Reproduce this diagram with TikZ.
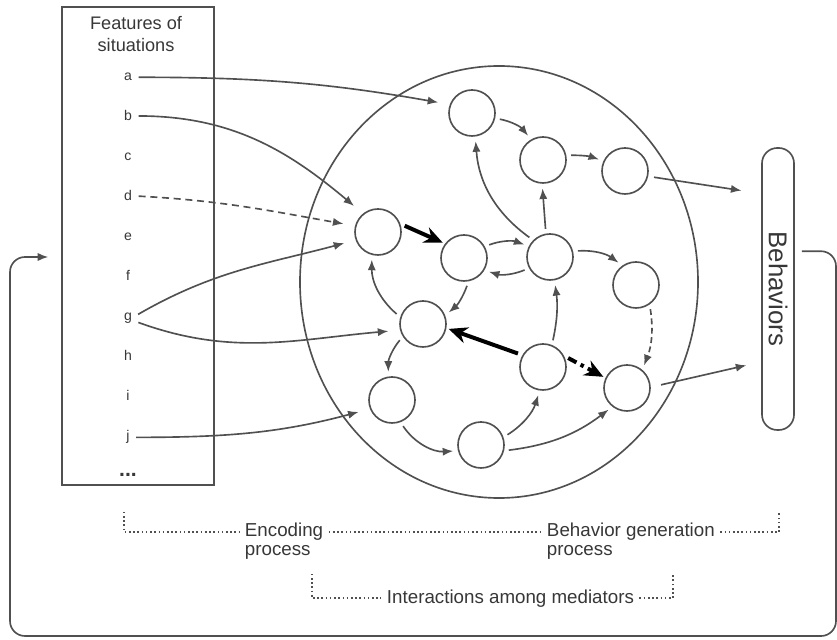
\documentclass[tikz,border=0pt]{standalone}
\usepackage{fontspec}
\setmainfont{Liberation Sans}
\usetikzlibrary{arrows.meta}
\definecolor{ink}{RGB}{80,80,80}
\definecolor{txt}{RGB}{55,55,55}

\begin{document}
\begin{tikzpicture}[x=0.03cm,y=0.03cm,>={Latex[length=9pt,width=7pt]},
    line width=1.4pt,color=ink,text=txt,font=\fontsize{16}{19}\selectfont,
    med/.style={circle,draw,minimum size=1.38cm,inner sep=0pt},
    lbl/.style={font=\fontsize{12}{14}\selectfont,inner sep=2pt,anchor=base},
    proc/.style={anchor=base west,inner sep=1pt},
    link/.style={->,shorten <=4pt,shorten >=4pt},
    feed/.style={->,shorten <=3pt,shorten >=10pt},
    heavy/.style={-{Stealth[length=16pt,width=14pt]},black,line width=3.4pt,shorten <=4pt,shorten >=2pt},
    brk/.style={line width=1.5pt,dash pattern=on 1.4pt off 2.2pt,shorten <=-1pt,shorten >=3pt}]
  \useasboundingbox (0,0) rectangle (837,639);

  % features of situations
  \node[draw,minimum width=4.56cm,minimum height=14.34cm] (feat) at (138,393) {};
  \node[align=center,font=\fontsize{15.5}{19.5}\selectfont] (ttl) at (136,605) {Features of\\situations};
  \foreach \l [count=\i] in {a,b,c,d,e,f,g,h,i,j}
    \node[lbl] (f\l) at (128,598-40*\i) {\l};
  \node[font=\fontsize{18}{20}\bfseries] (fdots) at (128,164) {...};

  % mediators
  \draw (499,357) ellipse [x radius=5.97cm,y radius=6.48cm];
  \foreach \n/\x/\y in {1/472/526,2/543/479,3/625/468,4/378/407,5/464/381,6/550/382,
      7/636/354,8/423/315,9/543/272,10/627/251,11/392/239,12/481/194}
    \node[med] (m\n) at (\x,\y) {};

  \node[draw,rounded corners=0.46cm,minimum width=0.96cm,minimum height=8.46cm,inner sep=0pt,
    font=\fontsize{22}{24}\selectfont] (beh) at (778,350) {\rotatebox{-90}{Behaviors}};

  % encoding
  \draw[feed] (fa.east) to[out=0,in=170] (m1.159);
  \draw[feed] (fb.east) to[out=0,in=140] (m4.129);
  \draw[feed,dash pattern=on 6pt off 4pt] (fd.east) to[out=-3,in=170] (m4.165);
  \draw[feed] (fg.20) to[out=30,in=195] (m4.200);
  \draw[feed] (fg.-20) to[out=-20,in=185] (m8.195);
  \draw[feed] (fj.east) to[out=0,in=195] (m11.202);

  % interactions
  \foreach \s/\t/\b in {m1.347/m2.120/20,m2.11/m3.155/10,m6.135/m1.278/25,m6.100/m2.268/0,
      m5.29/m6.153/20,m6.208/m5.329/20,m6.14/m7.125/20,m5.281/m8.21/15,m8.163/m4.255/25,
      m8.212/m11.99/-20,m11.291/m12.194/-30,m12.19/m9.262/-20,m12.346/m10.232/-15,m9.68/m6.281/-10}
    \draw[link] (\s) to[bend left=\b] (\t);
  \draw[link,dash pattern=on 5pt off 3pt] (m7.305) to[bend left=15] (m10.50);
  \draw[heavy] (m4.20) -- (m5.143);
  \draw[heavy] (m9.150) -- (m8.350);
  \draw[heavy,dash pattern=on 8pt off 4pt on 3pt off 4pt] (m9.28) -- (m10.155);

  % behavior generation
  \draw[->,shorten <=5pt,shorten >=17pt] (m3.347) -- (beh.100);
  \draw[->,shorten <=9pt,shorten >=13pt] (m10.2) -- (beh.257);

  % feedback loop
  \coordinate (rc) at (836,3);
  \coordinate (lc) at (10,3);
  \draw[->,rounded corners=0.45cm,shorten <=6pt,shorten >=11pt]
    (beh.66) -| (rc) -- (lc) |- ([yshift=-0.33cm]feat.west);

  % process brackets
  \node[proc] (enc) at (243,102) {Encoding};
  \node[proc] (encp) at (243,83) {process};
  \node[proc] (bgen) at (545,102) {Behavior generation};
  \node[proc] (bgenp) at (545,83) {process};
  \node[proc] (inter) at (385,36) {Interactions among mediators};
  \coordinate (encL) at (124,126);
  \coordinate (encR) at (779,126);
  \coordinate (intL) at (312,64);
  \coordinate (intR) at (673,64);
  \draw[brk] (encL) |- (enc.west);
  \draw[brk,shorten <=3pt] (enc.east) -- (bgen.west);
  \draw[brk,shorten <=3pt,shorten >=-1pt] (bgen.east) -| (encR);
  \draw[brk] (intL) |- (inter.west);
  \draw[brk,shorten <=3pt,shorten >=-1pt] (inter.east) -| (intR);
\end{tikzpicture}
\end{document}
